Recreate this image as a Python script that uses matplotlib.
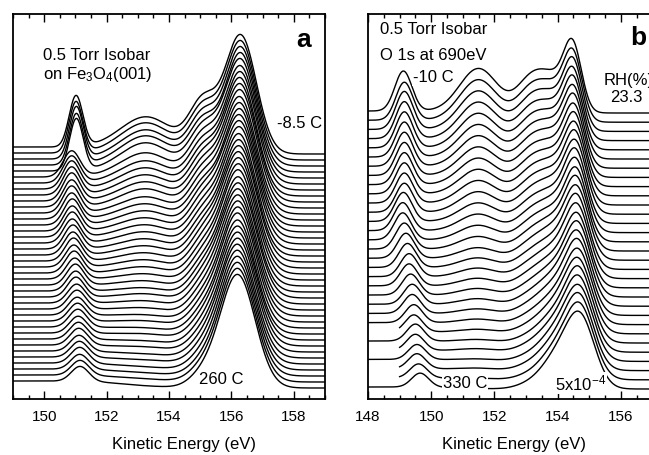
import numpy as np
import matplotlib
matplotlib.use("Agg")
import matplotlib.pyplot as plt
from matplotlib.ticker import MultipleLocator

plt.rcParams['font.family'] = ['Liberation Sans', 'DejaVu Sans']
plt.rcParams['mathtext.fontset'] = 'custom'
plt.rcParams['mathtext.rm'] = 'Liberation Sans'
plt.rcParams['mathtext.it'] = 'Liberation Sans:italic'
plt.rcParams['mathtext.bf'] = 'Liberation Sans:bold'

# ---------------- Panel a: Fe3O4(001), 0.5 Torr isobar ----------------
# spectra listed from the top trace (-8.5 C) to the bottom trace (260 C)
a_step = 6.0          # vertical offset between traces
a_base = 11.0         # baseline of the lowest trace
a_bg_left = 7.0       # inelastic background step on the low-energy side

# component 1: peak near 151 eV
a_p1_amp = [51, 51, 52, 51, 52, 26, 27, 28, 28, 28, 27, 27, 26, 26, 25, 25, 24, 24, 23, 23,
            22, 22, 21, 21, 20, 20, 19, 19, 18, 18, 18, 17, 17, 17, 16, 16, 16, 15, 15, 15]
a_p1_pos = [151.02, 151.02, 151.03, 151.03, 151.03, 150.88, 150.88, 150.88, 150.88, 150.88,
            150.88, 150.88, 150.88, 150.90, 150.90, 150.90, 150.90, 150.92, 150.92, 150.94,
            150.95, 150.96, 150.98, 151.00, 151.01, 151.02, 151.04, 151.05, 151.06, 151.07,
            151.08, 151.09, 151.10, 151.11, 151.12, 151.13, 151.14, 151.14, 151.15, 151.15]
a_p1_wid = [0.22, 0.22, 0.22, 0.22, 0.22, 0.27, 0.27, 0.27, 0.27, 0.27,
            0.27, 0.27, 0.27, 0.27, 0.27, 0.27, 0.27, 0.27, 0.27, 0.27,
            0.27, 0.27, 0.27, 0.27, 0.27, 0.27, 0.28, 0.28, 0.28, 0.28,
            0.28, 0.28, 0.28, 0.28, 0.28, 0.28, 0.28, 0.28, 0.28, 0.28]
# component 2: broad feature near 153.3 eV
a_p2_amp = [36, 36, 35, 35, 34, 30, 28, 27, 26, 25, 24, 22, 21, 20, 19, 18, 17, 16, 15, 14,
            13, 12, 11, 10, 9, 9, 8, 7, 6, 6, 5, 5, 4, 4, 3, 3, 2, 2, 2, 1]
# component 3: shoulder near 155.1 eV
a_p3_amp = [50, 49, 48, 47, 46, 45, 44, 43, 42, 41, 40, 39, 38, 37, 36, 35, 34, 33, 32, 31,
            30, 29, 28, 27, 26, 25, 24, 23, 22, 21, 20, 19, 18, 17, 16, 15, 14, 13, 13, 12]
# component 4: main peak near 156.2-156.3 eV
a_p4_amp = [118, 118, 118, 118, 118, 117, 117, 117, 117, 117, 116, 116, 116, 116, 116, 116,
            115, 115, 115, 115, 115, 115, 115, 114, 114, 114, 114, 114, 114, 114, 113, 113,
            113, 113, 113, 113, 113, 113, 113, 113]
a_p4_pos = [156.30, 156.30, 156.30, 156.30, 156.29, 156.29, 156.29, 156.28, 156.28, 156.28,
            156.27, 156.27, 156.27, 156.26, 156.26, 156.26, 156.25, 156.25, 156.25, 156.24,
            156.24, 156.24, 156.23, 156.23, 156.23, 156.22, 156.22, 156.22, 156.22, 156.21,
            156.21, 156.21, 156.21, 156.21, 156.20, 156.20, 156.20, 156.20, 156.20, 156.20]
a_p4_wid = [0.50, 0.50, 0.50, 0.50, 0.51, 0.51, 0.51, 0.51, 0.52, 0.52,
            0.52, 0.52, 0.52, 0.53, 0.53, 0.53, 0.53, 0.53, 0.54, 0.54,
            0.54, 0.54, 0.54, 0.54, 0.55, 0.55, 0.55, 0.55, 0.55, 0.55,
            0.55, 0.56, 0.56, 0.56, 0.56, 0.56, 0.56, 0.56, 0.56, 0.56]

# ---------------- Panel b: O 1s at 690 eV, 0.5 Torr isobar ----------------
# spectra listed from the top trace (-10 C, RH 23.3 %) to the bottom trace (330 C)
b_step = 9.2
b_base = 10.0
b_bg_left = 2.0

b_p1_amp = [40, 38, 38, 37, 36, 35, 34, 33, 32, 31, 30, 29, 29, 28, 27, 26, 25, 24, 23, 22,
            21, 20, 19, 18, 17, 17, 16, 15, 15, 14, 14]
b_p1_pos = [149.12, 149.15, 149.15, 149.15, 149.15, 149.15, 149.15, 149.15, 149.15, 149.15,
            149.15, 149.15, 149.12, 149.10, 149.10, 149.15, 149.20, 149.25, 149.30, 149.30,
            149.35, 149.40, 149.40, 149.45, 149.45, 149.50, 149.50, 149.55, 149.55, 149.60,
            149.65]
b_p2_amp = [44, 42, 40, 38, 36, 34, 32, 30, 28, 26, 24, 22, 20, 18, 16, 14, 12, 11, 10, 9,
            8, 7, 6, 5, 4, 3, 3, 2, 2, 1, 0]
b_p3_amp = [32, 31, 30, 29, 28, 27, 26, 25, 24, 23, 22, 21, 20, 19, 18, 17, 16, 15, 14, 13,
            12, 11, 10, 9, 8, 7, 7, 6, 6, 5, 5]
b_p4_amp = [30, 30, 30, 29, 29, 29, 29, 28, 28, 28, 28, 28, 27, 27, 27, 27, 27, 26, 26, 26,
            26, 26, 26, 25, 25, 25, 25, 25, 25, 25, 25]
b_p5_amp = [60, 60, 61, 61, 62, 62, 63, 63, 64, 64, 65, 65, 66, 66, 66, 67, 67, 68, 68, 68,
            69, 69, 70, 70, 70, 71, 71, 71, 72, 72, 72]
b_p5_pos = [154.48, 154.49, 154.50, 154.50, 154.51, 154.52, 154.53, 154.54, 154.55, 154.56,
            154.57, 154.58, 154.58, 154.59, 154.60, 154.61, 154.62, 154.62, 154.63, 154.64,
            154.65, 154.65, 154.66, 154.67, 154.67, 154.68, 154.68, 154.69, 154.69, 154.70,
            154.70]
b_p5_wid = [0.28, 0.29, 0.29, 0.30, 0.30, 0.31, 0.31, 0.32, 0.32, 0.33, 0.33, 0.34, 0.34,
            0.35, 0.35, 0.36, 0.37, 0.37, 0.38, 0.38, 0.39, 0.40, 0.40, 0.41, 0.42, 0.42,
            0.43, 0.44, 0.44, 0.45, 0.46]
b_start = [148.0, 148.0, 148.0, 148.0, 148.0, 148.0, 148.0, 148.0, 148.0, 148.0,
           148.0, 148.0, 148.0, 148.0, 148.0, 148.0, 148.0, 148.0, 148.0, 148.0,
           148.0, 148.0, 148.0, 148.0, 149.0, 148.0, 149.0, 148.0, 149.0, 149.0,
           148.0]


def gauss(x, c, s):
    return np.exp(-0.5 * ((x - c) / s) ** 2)


def step_bg(x, h, c):
    return h * 0.5 * (1.0 - np.tanh((x - c) / 1.0))


W, H = 649, 455
fig = plt.figure(figsize=(W / 100, H / 100), dpi=100)


def px_axes(x0, x1, y0, y1):
    return fig.add_axes([x0 / W, 1 - y1 / H, (x1 - x0) / W, (y1 - y0) / H])


axa = px_axes(13, 325, 14, 399)
axb = px_axes(368, 662, 14, 399)

# ---- panel a traces ----
xa = np.arange(149.0, 159.0001, 0.01)
na = len(a_p1_amp)
for i in range(na):
    off = a_base + (na - 1 - i) * a_step
    y = (off + step_bg(xa, a_bg_left, 152.5)
         + a_p1_amp[i] * gauss(xa, a_p1_pos[i], a_p1_wid[i])
         + a_p2_amp[i] * gauss(xa, 153.3, 0.85)
         + a_p3_amp[i] * gauss(xa, 155.1, 0.45)
         + a_p4_amp[i] * gauss(xa, a_p4_pos[i], a_p4_wid[i]))
    axa.plot(xa, y, color='black', lw=1.0, solid_joinstyle='round')

# ---- panel b traces ----
nb = len(b_p1_amp)
for i in range(nb):
    xb = np.arange(b_start[i], 157.3001, 0.01)
    off = b_base + (nb - 1 - i) * b_step
    y = (off + step_bg(xb, b_bg_left, 151.0)
         + b_p1_amp[i] * gauss(xb, b_p1_pos[i], 0.27)
         + b_p2_amp[i] * gauss(xb, 151.5, 0.6)
         + b_p3_amp[i] * gauss(xb, 153.15, 0.45)
         + b_p4_amp[i] * gauss(xb, 153.9, 0.45)
         + b_p5_amp[i] * gauss(xb, b_p5_pos[i], b_p5_wid[i]))
    axb.plot(xb, y, color='black', lw=1.0, solid_joinstyle='round')

for ax, lo, hi in ((axa, 149.0, 159.0), (axb, 148.0, 157.3)):
    ax.set_xlim(lo, hi)
    ax.set_ylim(0, 385)
    ax.set_yticks([])
    ax.xaxis.set_major_locator(MultipleLocator(2))
    ax.xaxis.set_minor_locator(MultipleLocator(0.5))
    ax.tick_params(axis='x', which='both', direction='in', top=True, bottom=True,
                   labelsize=11, pad=8, width=1.0)
    ax.tick_params(axis='x', which='major', length=6)
    ax.tick_params(axis='x', which='minor', length=3)
    for s in ax.spines.values():
        s.set_linewidth(1.3)

# ---- annotations, panel a ----
fs = 12
axa.text(149.96, 344, '0.5 Torr Isobar', fontsize=fs, va='center', ha='left')
axa.text(149.96, 324, r'on Fe$_\mathregular{3}$O$_\mathregular{4}$(001)', fontsize=fs,
         va='center', ha='left')
axa.text(158.3, 352, 'a', fontsize=19, fontweight='bold', ha='center', va='baseline')
axa.text(157.46, 275, '-8.5 C', fontsize=fs, va='center', ha='left')
axa.text(154.96, 19, '260 C', fontsize=fs, va='center', ha='left')

# ---- annotations, panel b ----
wbox = dict(facecolor='white', edgecolor='none', pad=0.5)
axb.text(148.38, 369, '0.5 Torr Isobar', fontsize=fs, va='center', ha='left')
axb.text(148.38, 344, 'O 1s at 690eV', fontsize=fs, va='center', ha='left')
axb.text(156.29, 354, 'b', fontsize=19, fontweight='bold', ha='left', va='baseline')
axb.text(149.42, 321, '-10 C', fontsize=fs, va='center', ha='left', bbox=wbox, zorder=5)
axb.text(155.44, 319, 'RH(%)', fontsize=fs, va='center', ha='left', zorder=5)
axb.text(155.66, 302, '23.3', fontsize=fs, va='center', ha='left', zorder=5)
axb.text(150.37, 16, '330 C', fontsize=fs, va='center', ha='left', bbox=wbox, zorder=5)
axb.text(153.92, 16, r'5x10$^\mathregular{-4}$', fontsize=fs, va='center', ha='left',
         bbox=wbox, zorder=5)

# axis titles
fig.text(184 / W, 1 - 445 / H, 'Kinetic Energy (eV)', fontsize=12, ha='center', va='center')
fig.text(514 / W, 1 - 445 / H, 'Kinetic Energy (eV)', fontsize=12, ha='center', va='center')

fig.savefig('out.png', dpi=100)
